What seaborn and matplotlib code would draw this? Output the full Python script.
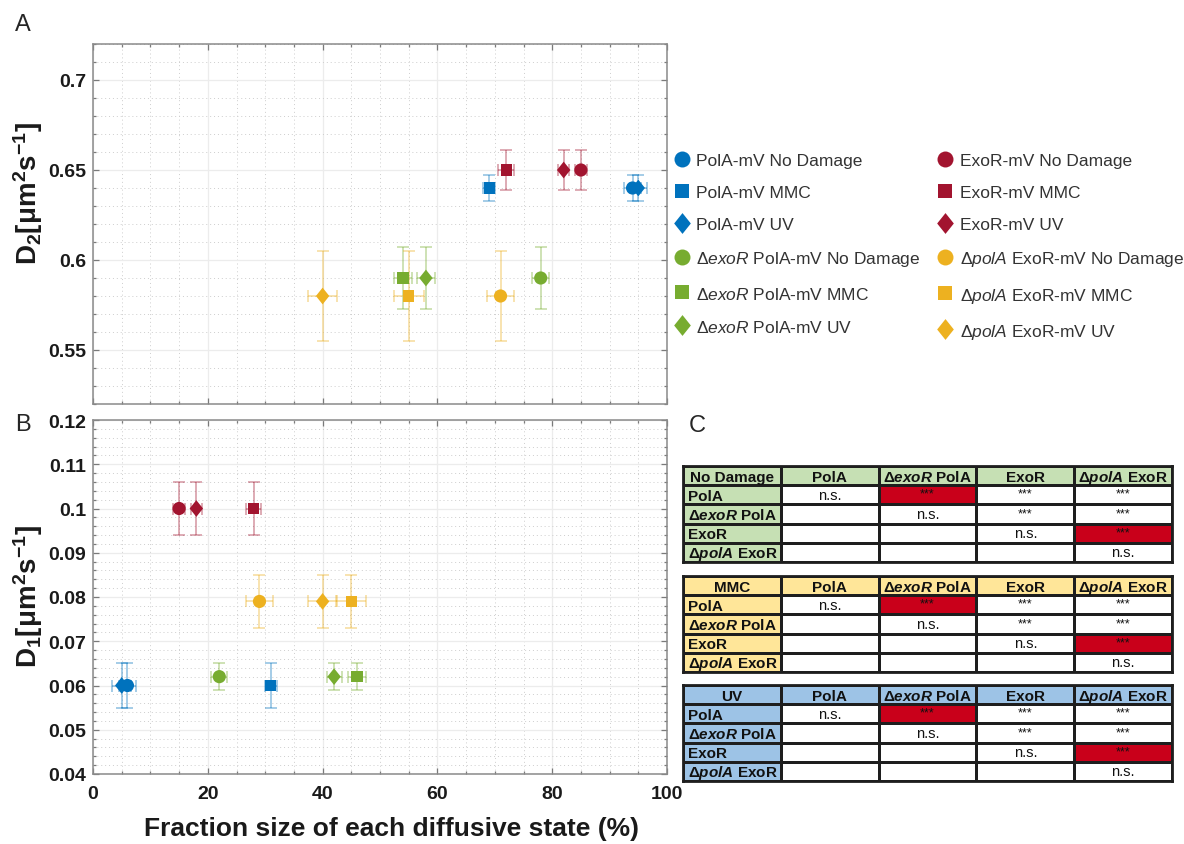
import matplotlib
matplotlib.use("Agg")
import numpy as np
import pandas as pd
import matplotlib.pyplot as plt
import seaborn as sns
from matplotlib.colors import ListedColormap, to_rgba
from matplotlib.lines import Line2D
from matplotlib.path import Path
from matplotlib.ticker import MultipleLocator, FuncFormatter

# ---------------- data ----------------
strains = ["PolA-mV", "dexoR PolA-mV", "ExoR-mV", "dpolA ExoR-mV"]
treatments = ["No Damage", "MMC", "UV"]

# Panel A : fast state (D2)  rows = strains, cols = treatments
frac_D2 = [[94, 69, 95], [78, 54, 58], [85, 72, 82], [71, 55, 40]]
frac_D2_err = [[1.5, 1.0, 1.5], [1.5, 1.5, 1.6], [1.0, 1.4, 1.0], [2.4, 2.6, 2.5]]
D2 = [[0.64, 0.64, 0.64], [0.59, 0.59, 0.59], [0.65, 0.65, 0.65], [0.58, 0.58, 0.58]]
D2_err = [[0.007, 0.007, 0.007], [0.017, 0.017, 0.017], [0.011, 0.011, 0.011], [0.025, 0.025, 0.025]]

# Panel B : slow state (D1)
frac_D1 = [[6, 31, 5], [22, 46, 42], [15, 28, 18], [29, 45, 40]]
frac_D1_err = [[1.5, 1.0, 1.7], [1.4, 1.5, 1.3], [1.0, 1.3, 1.0], [2.4, 2.6, 2.5]]
D1 = [[0.060, 0.060, 0.060], [0.062, 0.062, 0.062], [0.100, 0.100, 0.100], [0.079, 0.079, 0.079]]
D1_err = [[0.005, 0.005, 0.005], [0.003, 0.003, 0.003], [0.006, 0.006, 0.006], [0.006, 0.006, 0.006]]

# Panel C : significance tables
table_conditions = ["No Damage", "MMC", "UV"]
table_labels = ["PolA", r"Δ$\mathbfit{exoR}$ PolA", "ExoR", r"Δ$\mathbfit{polA}$ ExoR"]
table_sig = [["n.s.", "***", "***", "***"],
             ["", "n.s.", "***", "***"],
             ["", "", "n.s.", "***"],
             ["", "", "", "n.s."]]
table_red = [[0, 1, 0, 0],
             [0, 0, 0, 0],
             [0, 0, 0, 1],
             [0, 0, 0, 0]]

legend_labels = ["PolA-mV No Damage", "PolA-mV MMC", "PolA-mV UV",
                 r"Δ$\mathit{exoR}$ PolA-mV No Damage", r"Δ$\mathit{exoR}$ PolA-mV MMC", r"Δ$\mathit{exoR}$ PolA-mV UV",
                 "ExoR-mV No Damage", "ExoR-mV MMC", "ExoR-mV UV",
                 r"Δ$\mathit{polA}$ ExoR-mV No Damage", r"Δ$\mathit{polA}$ ExoR-mV MMC", r"Δ$\mathit{polA}$ ExoR-mV UV"]

# ---------------- style ----------------
sns.set_theme(style="white")
plt.rcParams["font.family"] = ["Liberation Sans", "DejaVu Sans"]
plt.rcParams["mathtext.fontset"] = "custom"
plt.rcParams["mathtext.rm"] = "Liberation Sans"
plt.rcParams["mathtext.it"] = "Liberation Sans:italic"
plt.rcParams["mathtext.bf"] = "Liberation Sans:bold"
plt.rcParams["mathtext.bfit"] = "Liberation Sans:bold:italic"

colors = {"PolA-mV": "#0072BD", "dexoR PolA-mV": "#77AC30",
          "ExoR-mV": "#A2142F", "dpolA ExoR-mV": "#EDB120"}
diamond = Path([(0, 1), (0.8, 0), (0, -1), (-0.8, 0), (0, 1)],
               [Path.MOVETO, Path.LINETO, Path.LINETO, Path.LINETO, Path.CLOSEPOLY])
markers = {"No Damage": "o", "MMC": "s", "UV": diamond}
sizes = {"No Damage": 90, "MMC": 64, "UV": 145}


def make_df(frac, frac_err, d, d_err):
    rows = []
    for i, s in enumerate(strains):
        for j, t in enumerate(treatments):
            rows.append(dict(strain=s, treatment=t, frac=frac[i][j], ferr=frac_err[i][j],
                             D=d[i][j], derr=d_err[i][j]))
    return pd.DataFrame(rows)


dfA = make_df(frac_D2, frac_D2_err, D2, D2_err)
dfB = make_df(frac_D1, frac_D1_err, D1, D1_err)

W, H = 1184, 845
fig = plt.figure(figsize=(W / 100, H / 100), dpi=100)


def px_axes(l, t, r, b):
    return fig.add_axes([l / W, 1 - b / H, (r - l) / W, (b - t) / H])


axA = px_axes(93, 45, 667, 405)
axB = px_axes(93, 421, 667, 775)


def draw_panel(ax, df):
    for s in strains:
        sub = df[df.strain == s]
        ax.errorbar(sub.frac, sub.D, xerr=sub.ferr, yerr=sub.derr, fmt="none",
                    ecolor=to_rgba(colors[s], 0.42), elinewidth=1.2, capsize=4,
                    capthick=1.2, zorder=2)
    sns.scatterplot(data=df, x="frac", y="D", hue="strain", style="treatment",
                    size="treatment", sizes=sizes, palette=colors, markers=markers,
                    hue_order=strains, style_order=treatments, linewidth=0,
                    legend=False, ax=ax, zorder=3)


def style_axes(ax, ylim, ymaj, ymin, show_x):
    ax.set_xlim(0, 100)
    ax.set_ylim(*ylim)
    ax.xaxis.set_major_locator(MultipleLocator(20))
    ax.xaxis.set_minor_locator(MultipleLocator(5))
    ax.yaxis.set_major_locator(MultipleLocator(ymaj))
    ax.yaxis.set_minor_locator(MultipleLocator(ymin))
    ax.yaxis.set_major_formatter(FuncFormatter(lambda v, p: "%g" % round(v, 4)))
    ax.xaxis.set_major_formatter(FuncFormatter(lambda v, p: "%g" % v))
    ax.grid(which="major", color="#ececec", lw=0.9, ls="-")
    ax.grid(which="minor", color="#cdcdcd", lw=0.7, ls=(0, (1, 3)))
    ax.set_axisbelow(True)
    ax.tick_params(which="both", direction="in", top=True, right=True, bottom=True,
                   left=True, color="#7a7a7a", width=0.9)
    ax.tick_params(which="major", length=4.5, pad=5, labelsize=14)
    ax.tick_params(which="minor", length=2.5)
    for sp in ax.spines.values():
        sp.set_color("#8a8a8a")
        sp.set_linewidth(1.1)
    for lab in ax.get_yticklabels() + ax.get_xticklabels():
        lab.set_fontweight("bold")
        lab.set_color("#1a1a1a")
    if not show_x:
        ax.tick_params(axis="x", labelbottom=False)
    ax.set_xlabel("")
    ax.set_ylabel("")


draw_panel(axA, dfA)
draw_panel(axB, dfB)
style_axes(axA, (0.52, 0.72), 0.05, 0.01, False)
style_axes(axB, (0.04, 0.12), 0.01, 0.002, True)
axB.tick_params(axis="x", pad=8)
for lab in axB.get_xticklabels():
    lab.set_fontweight("bold")

# axis labels
fig.text(28 / W, 1 - 194 / H, r"$\mathbf{D_2[\mu m^2s^{-1}]}$", rotation=90,
         ha="center", va="center", fontsize=20, color="#1a1a1a")
fig.text(28 / W, 1 - 597 / H, r"$\mathbf{D_1[\mu m^2s^{-1}]}$", rotation=90,
         ha="center", va="center", fontsize=20, color="#1a1a1a")
fig.text(391 / W, 1 - 829 / H, "Fraction size of each diffusive state (%)",
         ha="center", va="center", fontsize=19, fontweight="bold", color="#1a1a1a")

# panel letters
fig.text(23 / W, 1 - 25 / H, "A", ha="center", va="center", fontsize=17)
fig.text(23 / W, 1 - 425 / H, "B", ha="center", va="center", fontsize=17)
fig.text(697 / W, 1 - 426 / H, "C", ha="center", va="center", fontsize=17)

# legend
handles = []
leg_ms = {"No Damage": 11.5, "MMC": 10, "UV": 15}
for s in strains:
    for t in treatments:
        handles.append(Line2D([], [], linestyle="none", marker=markers[t],
                              markersize=leg_ms[t], color=colors[s], markeredgewidth=0))
fig.legend(handles, legend_labels, ncol=2, loc="upper left",
           bbox_to_anchor=(673 / W, 1 - 154 / H), frameon=False, fontsize=12.5,
           handlelength=1.0, handletextpad=0.35, columnspacing=0.9,
           labelspacing=0.98, labelcolor="#333333", borderaxespad=0, borderpad=0)

# tables
header_colors = ["#C6E0B4", "#FFE699", "#9DC3E6"]
red = "#C9001A"
table_tops = [467, 577, 686]
for k, cond in enumerate(table_conditions):
    ax = px_axes(683, table_tops[k], 1172, table_tops[k] + 96)
    codes = np.ones((5, 5))
    annot = np.full((5, 5), "", dtype=object)
    for i in range(4):
        for j in range(4):
            codes[i + 1, j + 1] = 2 if table_red[i][j] else 0
            annot[i + 1, j + 1] = table_sig[i][j]
    cmap = ListedColormap(["#FFFFFF", header_colors[k], red])
    sns.heatmap(codes, cmap=cmap, vmin=-0.5, vmax=2.5, cbar=False, annot=annot, fmt="",
                annot_kws=dict(fontsize=10.5, color="#111111"), linewidths=1.8,
                linecolor="#1e1e1e", xticklabels=False, yticklabels=False, ax=ax)
    for txt in ax.texts:
        if txt.get_text() == "***":
            txt.set_fontsize(9)
            x, y = txt.get_position()
            txt.set_position((x, y - 0.05))
    for sp in ax.spines.values():
        sp.set_visible(True)
        sp.set_linewidth(2)
        sp.set_color("#1e1e1e")
    cols = [cond, "PolA", r"Δ$\mathbfit{exoR}$ PolA", "ExoR", r"Δ$\mathbfit{polA}$ ExoR"]
    for j, c in enumerate(cols):
        ax.text(j + 0.5, 0.55, c, ha="center", va="center", fontsize=11,
                fontweight="bold", color="#111111")
    for i, lab in enumerate(table_labels):
        ax.text(0.05, i + 1.55, lab, ha="left", va="center", fontsize=11,
                fontweight="bold", color="#111111")
    ax.set_xlabel("")
    ax.set_ylabel("")

fig.savefig("out.png", dpi=100)
